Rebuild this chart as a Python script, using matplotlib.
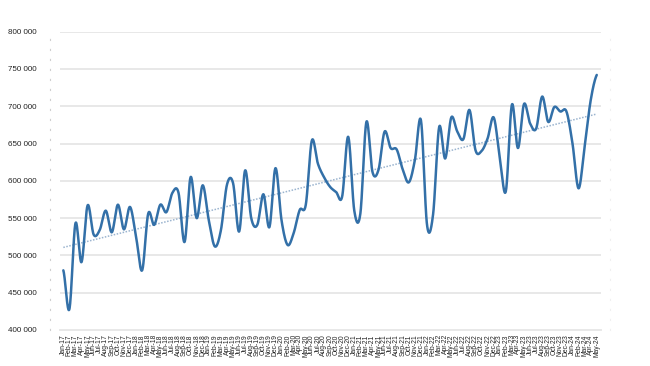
import numpy as np
import matplotlib
matplotlib.use("Agg")
import matplotlib.pyplot as plt

months = ["Jan", "Feb", "Mar", "Apr", "May", "Jun",
          "Jul", "Aug", "Sep", "Oct", "Nov", "Dec"]
labels = [f"{m}-{y}" for y in range(17, 25) for m in months][:89]

# monthly values, Jan-17 .. May-24
values = [
    480000, 428000, 543000, 491000, 567000, 528000, 534000, 560000, 531000, 568000, 535000, 565000,  # 2017
    525000, 480000, 556000, 541000, 568000, 558000, 584000, 584000, 518000, 605000, 550000, 594000,  # 2018
    547000, 512000, 534000, 595000, 597000, 532000, 614000, 550000, 541000, 582000, 538000, 617000,  # 2019
    547000, 514000, 530000, 561000, 568000, 654000, 623000, 605000, 592000, 585000, 579000, 659000,  # 2020
    560000, 556000, 679000, 612000, 615000, 666000, 644000, 642000, 615000, 598000, 628000, 681000,  # 2021
    541000, 555000, 672000, 630000, 685000, 666000, 656000, 695000, 641000, 640000, 657000, 685000,  # 2022
    632000, 586000, 702000, 644000, 703000, 677000, 670000, 713000, 679000, 699000, 693000, 693000,  # 2023
    650000, 590000, 646000, 708000, 742000,  # 2024
]


def smooth(y, steps=24):
    # catmull-rom curve through the points, like a spreadsheet "smoothed line"
    y = np.asarray(y, dtype=float)
    p = np.concatenate([[y[0]], y, [y[-1]]])
    xs, ys = [], []
    t = np.linspace(0, 1, steps, endpoint=False)
    for i in range(len(y) - 1):
        p0, p1, p2, p3 = p[i], p[i + 1], p[i + 2], p[i + 3]
        seg = 0.5 * ((2 * p1) + (-p0 + p2) * t
                     + (2 * p0 - 5 * p1 + 4 * p2 - p3) * t ** 2
                     + (-p0 + 3 * p1 - 3 * p2 + p3) * t ** 3)
        xs.append(i + t)
        ys.append(seg)
    xs.append([len(y) - 1])
    ys.append([y[-1]])
    return np.concatenate(xs), np.concatenate(ys)


plt.rcParams["font.family"] = ["Liberation Sans", "DejaVu Sans"]

fig = plt.figure(figsize=(6.5, 3.66), dpi=100)
ax = fig.add_axes([0.0923, 0.0984, 0.8323, 0.815])

x = np.arange(len(values))
sx, sy = smooth(values)
ax.plot(sx, sy, color="#3370a8", lw=1.8, solid_capstyle="round", zorder=3)

k, b = np.polyfit(x, values, 1)
ax.plot(x, k * x + b, color="#9bb4cf", lw=1.1, ls=(0, (1, 1)), zorder=2)

ax.set_xlim(-0.55, 88.7)
ax.set_ylim(400000, 800000)
yt = np.arange(400000, 800001, 50000)
ax.set_yticks(yt, [f"{v:,}".replace(",", " ") for v in yt])
ax.set_xticks(x, labels, rotation=90)

ax.grid(axis="y", color="#e8e8e8", lw=1.4)
ax.set_axisbelow(True)
ax.tick_params(axis="y", length=0, pad=9.5, labelsize=5.8, labelcolor="#222222")
ax.tick_params(axis="x", length=0, pad=3, labelsize=4.9, labelcolor="#222222")

ax.spines["top"].set_visible(False)
ax.spines["bottom"].set_color("#e8e8e8")
ax.spines["bottom"].set_linewidth(1.4)
ax.spines["left"].set_position(("outward", 7.2))
ax.spines["left"].set_linestyle((0, (1, 8)))
ax.spines["left"].set_color("#d0d0d0")
ax.spines["right"].set_position(("outward", 6.5))
ax.spines["right"].set_linestyle((0, (1, 8)))
ax.spines["right"].set_color("#f0f0f0")

fig.savefig("out.png", dpi=100)
